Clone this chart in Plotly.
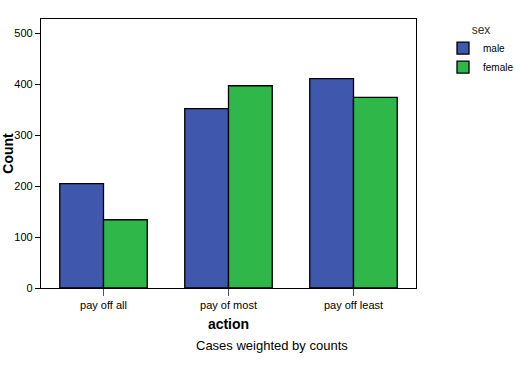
import plotly.graph_objects as go

categories = ["pay off all", "pay of most", "pay off least"]
male = [205, 352, 411]
female = [134, 397, 374]
y_ticks = [0, 100, 200, 300, 400, 500]

fig = go.Figure()
fig.add_trace(go.Bar(x=categories, y=male, name="male",
                     marker=dict(color="#3f57ad", line=dict(color="#000000", width=1.3))))
fig.add_trace(go.Bar(x=categories, y=female, name="female",
                     marker=dict(color="#2fb74a", line=dict(color="#000000", width=1.3))))

fig.update_layout(
    width=515, height=369,
    margin=dict(l=41, r=99, t=19, b=81),
    paper_bgcolor="white", plot_bgcolor="white",
    barmode="group", bargap=0.3, bargroupgap=0,
    font=dict(family="Liberation Sans, Arial, sans-serif", color="#000000", size=11),
    showlegend=True,
    legend=dict(title=dict(text="sex", side="top center", font=dict(size=12, color="#333333")),
                xref="container", yref="container",
                x=443 / 515, y=1 - 18 / 369, xanchor="left", yanchor="top",
                font=dict(size=10), itemwidth=30, tracegroupgap=2),
    xaxis=dict(showline=True, linecolor="#000000", linewidth=1.3, mirror=True,
               ticks="outside", ticklen=7, tickcolor="#555555", tickwidth=1.3,
               automargin=False,
               title=dict(text="<b>action</b>", font=dict(size=14), standoff=8),
               tickfont=dict(size=11)),
    yaxis=dict(range=[0, 528], tickvals=y_ticks, showline=True, linecolor="#000000",
               linewidth=1.3, mirror=True, ticks="outside", ticklen=5, tickwidth=1.3,
               tickcolor="#000000", showgrid=False, zeroline=False, automargin=False,
               title=dict(text="<b>Count</b>", font=dict(size=14), standoff=0),
               tickfont=dict(size=11)),
    annotations=[dict(text="Cases weighted by counts", xref="paper", yref="paper",
                      x=0.616, y=-0.18, xanchor="center", yanchor="top", showarrow=False,
                      font=dict(size=13))],
)

fig.write_html("out.html", config={"displayModeBar": False},
               post_script="document.body.style.margin='0';")
